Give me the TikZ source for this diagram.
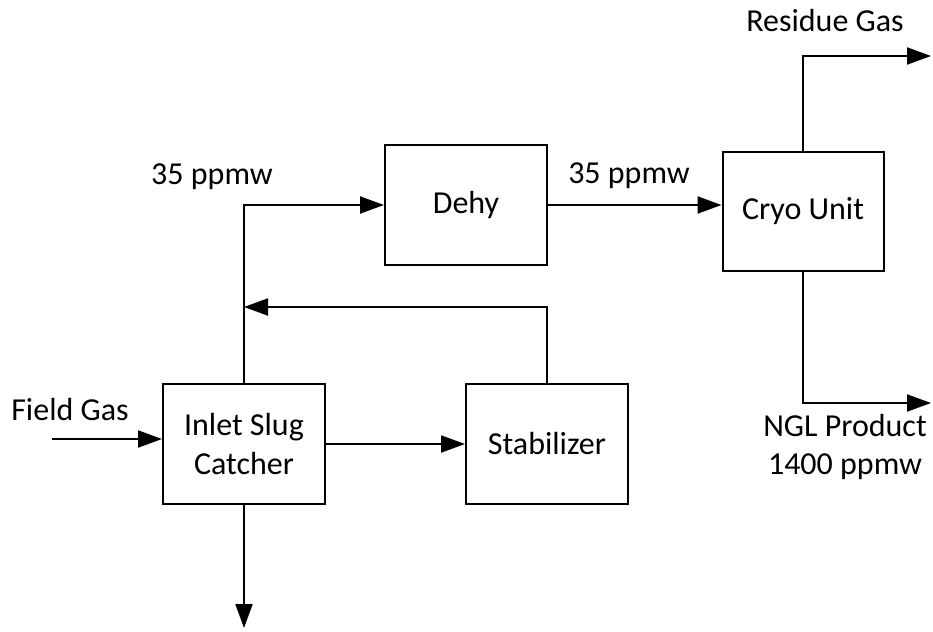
\documentclass[tikz,border=0pt]{standalone}
\usepackage{fontspec}
\setmainfont{Carlito}
\usetikzlibrary{arrows.meta}
\begin{document}
\begin{tikzpicture}[x=1pt,y=-1pt,
  every node/.style={font=\fontsize{32}{39}\selectfont, inner sep=0pt},
  unitbox/.style={draw, line width=2pt, minimum width=162pt, minimum height=120pt, align=center},
  lbl/.style={anchor=base, align=center},
  flow/.style={line width=2pt, -{Triangle[length=24pt,width=17pt]}}]
\useasboundingbox (0,0) rectangle (933,631);
\node[unitbox] (dehy) at (466,205) {Dehy};
\node[unitbox, minimum width=161pt, minimum height=119pt] (cryo) at (803,211.5) {Cryo Unit};
\node[unitbox] (inlet) at (244,444) {Inlet Slug\\Catcher};
\node[unitbox] (stab) at (547,444) {Stabilizer};

\node[lbl] (l35a) at (212,184) {35 ppmw};
\node[lbl] (l35b) at (629,183) {35 ppmw};
\node[lbl] (lres) at (825,32) {Residue Gas};
\node[lbl] (lfield) at (70,420) {Field Gas};
\node[lbl] (lngl) at (845,436) {NGL Product};
\node[lbl] (lppm) at (845,474) {1400 ppmw};

\coordinate (fg) at (52,439);
\coordinate (rj) at (244,307);
\coordinate (bot) at (244,628);
\coordinate (res) at (931,56);
\coordinate (ngl) at (931,403);

\draw[flow] (fg) -- (fg -| inlet.west);
\draw[flow] (inlet.north) |- (dehy.west);
\draw[flow] (stab.north) |- (rj);
\draw[flow] (inlet.east) -- (stab.west);
\draw[flow] (inlet.south) -- (bot);
\draw[flow] (dehy.east) -- (dehy.east -| cryo.west);
\draw[flow] (cryo.north) |- (res);
\draw[flow] (cryo.south) |- (ngl);
\end{tikzpicture}
\end{document}
